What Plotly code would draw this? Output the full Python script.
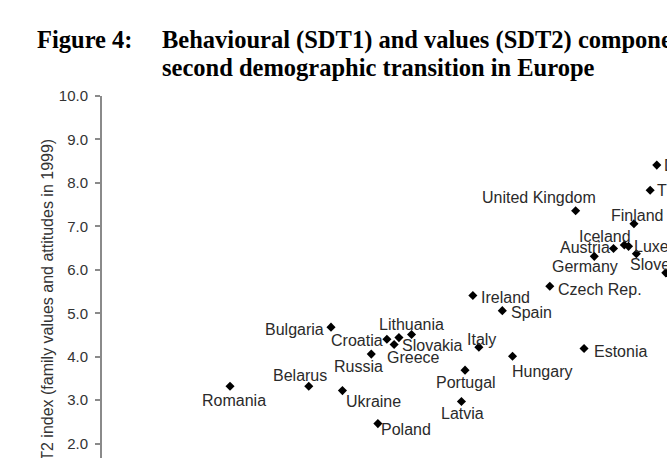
import plotly.graph_objects as go

# ---- data (SDT1 behavioural index, SDT2 values index) ----
countries = ["Romania", "Belarus", "Bulgaria", "Ukraine", "Russia", "Poland",
             "Croatia", "Slovakia", "Greece", "Lithuania", "Latvia", "Portugal",
             "Ireland", "Italy", "Spain", "Hungary", "Czech Rep.", "United Kingdom",
             "Estonia", "Germany", "Austria", "Iceland", "Luxembourg", "Finland",
             "Slovenia", "The Netherlands", "Denmark", "Belgium"]
sdt1 = [2.13, 3.44, 3.81, 4.00, 4.48, 4.59,
        4.74, 4.86, 4.94, 5.15, 5.98, 6.04,
        6.17, 6.27, 6.66, 6.83, 7.45, 7.88,
        8.02, 8.19, 8.51, 8.69, 8.76, 8.85,
        8.89, 9.12, 9.23, 9.38]
sdt2 = [3.32, 3.32, 4.68, 3.22, 4.06, 2.46,
        4.40, 4.28, 4.44, 4.51, 2.97, 3.69,
        5.41, 4.22, 5.06, 4.01, 5.62, 7.36,
        4.19, 6.31, 6.49, 6.57, 6.54, 7.06,
        6.37, 7.83, 8.41, 5.93]
y_ticks = [2, 3, 4, 5, 6, 7, 8, 9, 10]

# ---- label placement styles (pixel offsets of label centre from marker) ----
label_dx = [4, -9, -37, 31, -13, 28,
            -30, 38, 15, 0, 1, 1,
            33, 3, 29, 29, 50, -37,
            36, -9, -29, -19, 50, 3,
            24, 66, 40, 40]
label_dy = [14, -11, 2, 11, 12.5, 6,
            1, 1, 20, -10, 12, 12,
            2, -7.5, 2, 15, 3, -13,
            3, 10, -1, -8.5, 0, -8.5,
            11, 0, 0, 0]

W, H = 667, 458
L, T = 102, 96
px_per_unit = 43.45
y_min = 10 - (H - T) / px_per_unit

fig = go.Figure()
fig.add_trace(go.Scatter(
    x=sdt1, y=sdt2, mode="markers", text=countries,
    marker=dict(symbol="diamond", size=7, color="black"),
    hovertemplate="%{text}<br>SDT1: %{x}<br>SDT2: %{y}<extra></extra>",
    cliponaxis=True,
))

annotations = []
for name, x, y, dx, dy in zip(countries, sdt1, sdt2, label_dx, label_dy):
    annotations.append(dict(
        x=x, y=y, xref="x", yref="y", text=name, showarrow=False,
        xanchor="center", yanchor="middle", xshift=dx, yshift=-dy,
        font=dict(family="Liberation Sans, Arial", size=16, color="#2a2a2a"),
    ))

plot_h = H - T
plot_w = W - L
def px(xp):
    return (xp - L) / plot_w
def py(yp):
    return (H - yp) / plot_h

title_font = dict(family="Liberation Serif, Times New Roman", size=24.5, color="black")
# Title
annotations.append(dict(
    x=px(35), y=py(40), xref="paper", yref="paper", text="<b>Figure 4:</b>",
    showarrow=False, xanchor="left", yanchor="middle", font=title_font,
))
annotations.append(dict(
    x=px(160), y=py(40), xref="paper", yref="paper",
    text="<b>Behavioural (SDT1) and values (SDT2) components of the</b>",
    showarrow=False, xanchor="left", yanchor="middle", align="left", font=title_font,
))
annotations.append(dict(
    x=px(160), y=py(67), xref="paper", yref="paper",
    text="<b>second demographic transition in Europe</b>",
    showarrow=False, xanchor="left", yanchor="middle", align="left", font=title_font,
))
# Y axis title
annotations.append(dict(
    x=px(47), y=py(137), xref="paper", yref="paper",
    text="SDT2 index (family values and attitudes in 1999)",
    showarrow=False, textangle=-90, xanchor="center", yanchor="top",
    font=dict(family="Liberation Sans, Arial", size=16, color="#333333"),
))

fig.update_layout(
    width=W, height=H,
    margin=dict(l=L, r=0, t=T, b=0, pad=0),
    paper_bgcolor="white", plot_bgcolor="white",
    showlegend=False,
    annotations=annotations,
    xaxis=dict(range=[0, 9.4], visible=False, showgrid=False, zeroline=False),
    yaxis=dict(
        range=[y_min, 10], tickvals=y_ticks, tickformat=".1f",
        showgrid=False, zeroline=False,
        showline=True, linecolor="#8a8a8a", linewidth=2,
        ticks="outside", ticklen=5, tickwidth=1.5, tickcolor="#8a8a8a",
        ticklabelstandoff=4,
        tickfont=dict(family="Liberation Sans, Arial", size=15, color="#333333"),
    ),
)

fig.write_html("out.html")
